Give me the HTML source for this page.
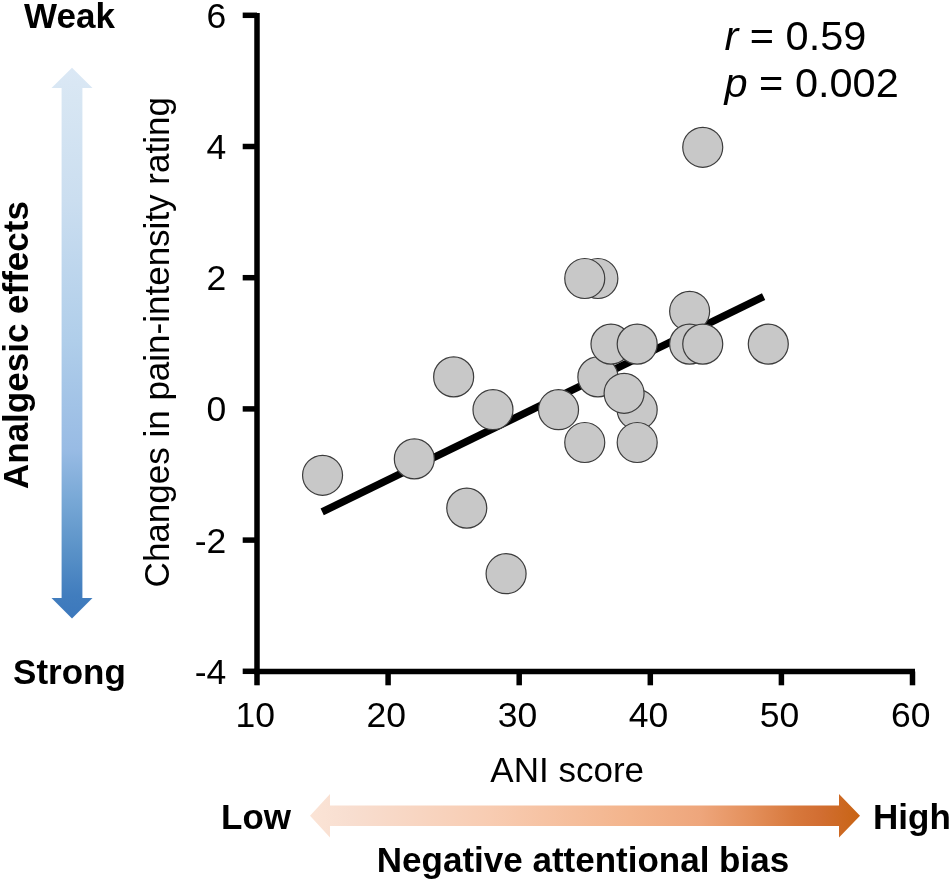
<!DOCTYPE html>
<html><head><meta charset="utf-8"><style>
html,body{margin:0;padding:0;background:#fff;width:950px;height:883px;overflow:hidden}
svg{display:block;font-family:"Liberation Sans",sans-serif;will-change:transform}
</style></head><body>
<svg width="950" height="883" viewBox="0 0 950 883">
<defs>
<linearGradient id="gb" x1="0" y1="67.7" x2="0" y2="618.5" gradientUnits="userSpaceOnUse"><stop offset="0" stop-color="#dbe8f5"/><stop offset="0.0586" stop-color="#d7e6f3"/><stop offset="0.24" stop-color="#cbdef0"/><stop offset="0.494" stop-color="#b0ceea"/><stop offset="0.694" stop-color="#98bbe4"/><stop offset="0.785" stop-color="#78a8d6"/><stop offset="0.876" stop-color="#5a92c8"/><stop offset="0.957" stop-color="#417dbe"/><stop offset="1" stop-color="#3c78bc"/></linearGradient>
<linearGradient id="go" x1="310" y1="0" x2="860" y2="0" gradientUnits="userSpaceOnUse"><stop offset="0" stop-color="#fbe4d6"/><stop offset="0.073" stop-color="#f8ded0"/><stop offset="0.327" stop-color="#f8ccb2"/><stop offset="0.582" stop-color="#f3b48c"/><stop offset="0.709" stop-color="#eea67c"/><stop offset="0.8" stop-color="#e4905c"/><stop offset="0.882" stop-color="#d7783c"/><stop offset="0.927" stop-color="#d26e32"/><stop offset="1" stop-color="#c86414"/></linearGradient>
</defs>
<path fill="url(#gb)" d="M72 67.7 L92.5 88 L82.4 88 L82.4 598 L92.5 598 L72 618.5 L51.5 598 L61.6 598 L61.6 88 L51.5 88 Z"/>
<path fill="url(#go)" d="M310 815.7 L330 794 L330 805.4 L839 805.4 L839 794 L860 815.7 L839 837.4 L839 826 L330 826 L330 837.4 Z"/>
<g stroke="#000" stroke-width="5.5" fill="none" stroke-linecap="butt">
<line x1="257" y1="13" x2="257" y2="674.3"/>
<line x1="254.3" y1="671.5" x2="915" y2="671.5"/>
<line x1="242.7" y1="15.30" x2="257" y2="15.30"/>
<line x1="242.7" y1="146.50" x2="257" y2="146.50"/>
<line x1="242.7" y1="277.70" x2="257" y2="277.70"/>
<line x1="242.7" y1="408.90" x2="257" y2="408.90"/>
<line x1="242.7" y1="540.10" x2="257" y2="540.10"/>
<line x1="242.7" y1="671.30" x2="257" y2="671.30"/>
<line x1="257.00" y1="671.5" x2="257.00" y2="685.3"/>
<line x1="388.10" y1="671.5" x2="388.10" y2="685.3"/>
<line x1="519.20" y1="671.5" x2="519.20" y2="685.3"/>
<line x1="650.30" y1="671.5" x2="650.30" y2="685.3"/>
<line x1="781.40" y1="671.5" x2="781.40" y2="685.3"/>
<line x1="912.50" y1="671.5" x2="912.50" y2="685.3"/>
</g>
<g font-family="Liberation Sans" font-size="35.5" fill="#000">
<text x="226.3" y="27.80" text-anchor="end">6</text>
<text x="226.3" y="159.00" text-anchor="end">4</text>
<text x="226.3" y="290.20" text-anchor="end">2</text>
<text x="226.3" y="421.40" text-anchor="end">0</text>
<text x="226.3" y="552.60" text-anchor="end">-2</text>
<text x="226.3" y="683.80" text-anchor="end">-4</text>
<text x="255.20" y="727" text-anchor="middle">10</text>
<text x="386.30" y="727" text-anchor="middle">20</text>
<text x="517.40" y="727" text-anchor="middle">30</text>
<text x="648.50" y="727" text-anchor="middle">40</text>
<text x="779.60" y="727" text-anchor="middle">50</text>
<text x="910.70" y="727" text-anchor="middle">60</text>
<text x="567.2" y="782" text-anchor="middle" font-size="35">ANI score</text>
<text transform="translate(169.4,587.4) rotate(-90)" x="0" y="0" font-size="35">Changes in pain-intensity rating</text>
</g>
<line x1="322.2" y1="511.9" x2="763.6" y2="296.6" stroke="#000" stroke-width="7.4"/>
<g fill="#c8c8c8" stroke="#3c3c3c" stroke-width="1.2">
<circle cx="322.55" cy="475.30" r="20.0"/>
<circle cx="414.32" cy="458.90" r="20.0"/>
<circle cx="453.65" cy="376.90" r="20.0"/>
<circle cx="466.76" cy="508.10" r="20.0"/>
<circle cx="492.98" cy="409.70" r="20.0"/>
<circle cx="506.09" cy="573.70" r="20.0"/>
<circle cx="558.53" cy="409.70" r="20.0"/>
<circle cx="597.86" cy="278.50" r="20.0"/>
<circle cx="584.75" cy="278.50" r="20.0"/>
<circle cx="584.75" cy="442.50" r="20.0"/>
<circle cx="597.86" cy="376.90" r="20.0"/>
<circle cx="610.97" cy="344.10" r="20.0"/>
<circle cx="637.19" cy="344.10" r="20.0"/>
<circle cx="637.19" cy="409.70" r="20.0"/>
<circle cx="624.08" cy="393.30" r="20.0"/>
<circle cx="637.19" cy="442.50" r="20.0"/>
<circle cx="689.63" cy="311.30" r="20.0"/>
<circle cx="689.63" cy="344.10" r="20.0"/>
<circle cx="702.74" cy="344.10" r="20.0"/>
<circle cx="702.74" cy="147.30" r="20.0"/>
<circle cx="768.29" cy="344.10" r="20.0"/>
</g>
<g font-family="Liberation Sans" font-size="41.5" fill="#000">
<text x="724.5" y="50"><tspan font-style="italic">r</tspan> = 0.59</text>
<text x="724.5" y="97.4"><tspan font-style="italic">p</tspan> = 0.002</text>
</g>
<g font-family="Liberation Sans" font-weight="bold" font-size="35" fill="#000">
<text x="69.5" y="27.7" text-anchor="middle">Weak</text>
<text x="69.5" y="683.5" text-anchor="middle">Strong</text>
<text transform="translate(28.4,489) rotate(-90)" x="0" y="0">Analgesic effects</text>
<text x="221" y="828.8">Low</text>
<text x="873" y="828.8">High</text>
<text x="583" y="871.5" text-anchor="middle">Negative attentional bias</text>
</g>
</svg>
</body></html>
